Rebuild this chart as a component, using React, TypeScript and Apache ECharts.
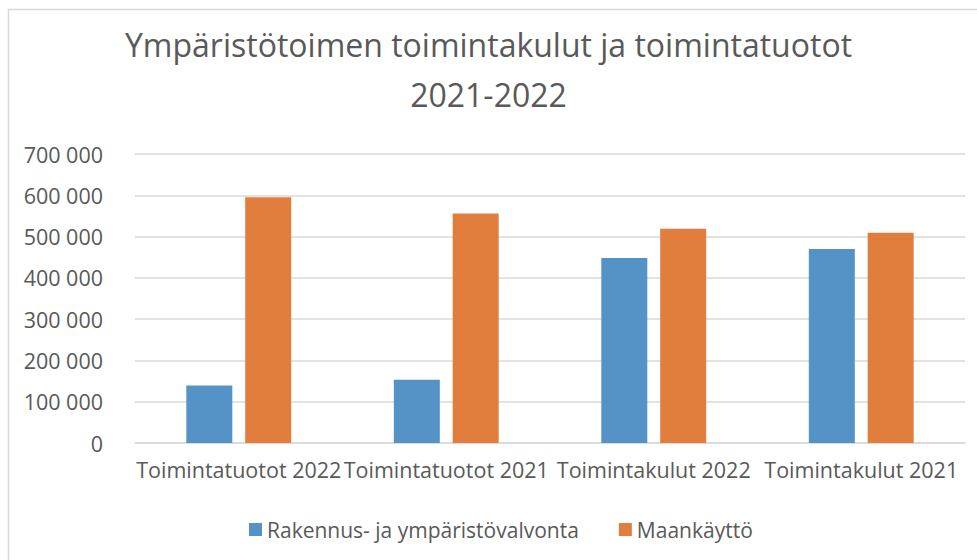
import React, { useEffect, useRef } from "react";
import * as echarts from "echarts";

const titleText = "Ympäristötoimen toimintakulut ja toimintatuotot\n2021-2022";
const categories = ["Toimintatuotot 2022", "Toimintatuotot 2021", "Toimintakulut 2022", "Toimintakulut 2021"];
const seriesNames = ["Rakennus- ja ympäristövalvonta", "Maankäyttö"];
const rakennusValues = [139000, 153000, 448000, 470000];
const maankayttoValues = [595000, 556000, 519000, 509000];
const yMin = 0;
const yMax = 700000;
const yInterval = 100000;

const FONT = "'Open Sans', 'Noto Sans', sans-serif";
const TEXT = "#595959";
const GRID = "#d9d9d9";

export default function App() {
  const ref = useRef<HTMLDivElement>(null);
  useEffect(() => {
    if (!ref.current) return;
    const chart = echarts.init(ref.current, undefined, { renderer: "svg" });
    chart.setOption({
      animation: false,
      backgroundColor: "#ffffff",
      textStyle: { fontFamily: FONT },
      graphic: [
        {
          type: "rect",
          shape: { x: 8.5, y: 9.5, width: 1000, height: 1000 },
          style: { fill: "none", stroke: GRID, lineWidth: 1.5 },
          silent: true,
          z: -1,
        },
      ],
      title: {
        text: titleText,
        left: "center",
        top: 14,
        textStyle: {
          fontFamily: FONT,
          fontSize: 32,
          fontWeight: "normal",
          color: TEXT,
          lineHeight: 50,
        },
      },
      legend: {
        left: 244,
        top: 514,
        itemWidth: 13,
        itemHeight: 13,
        itemGap: 40,
        icon: "rect",
        textStyle: { fontFamily: FONT, fontSize: 21, color: TEXT, padding: [0, 0, 0, 0] },
        data: seriesNames,
      },
      grid: { left: 135, right: 12, top: 154, bottom: 117, containLabel: false },
      xAxis: {
        type: "category",
        data: categories,
        axisTick: { show: false },
        axisLine: { lineStyle: { color: GRID, width: 1.5 } },
        axisLabel: { fontFamily: FONT, fontSize: 21.5, color: TEXT, margin: 15, interval: 0 },
      },
      yAxis: {
        type: "value",
        min: yMin,
        max: yMax,
        interval: yInterval,
        axisLine: { show: false },
        axisTick: { show: false },
        splitLine: { lineStyle: { color: GRID, width: 1.5 } },
        axisLabel: {
          fontFamily: FONT,
          fontSize: 21.5,
          color: TEXT,
          margin: 32,
          formatter: (v: number) => String(Math.round(v)).replace(/\B(?=(\d{3})+(?!\d))/g, " "),
        },
      },
      series: [
        {
          name: seriesNames[0],
          type: "bar",
          data: rakennusValues,
          barWidth: 46,
          barGap: "28%",
          itemStyle: { color: "#5592c6" },
        },
        {
          name: seriesNames[1],
          type: "bar",
          data: maankayttoValues,
          barWidth: 46,
          barGap: "28%",
          itemStyle: { color: "#e27e3d" },
        },
      ],
    });
    return () => chart.dispose();
  }, []);
  return (
    <div
      ref={ref}
      style={{ position: "absolute", left: 0, top: 0, width: 977, height: 560 }}
    />
  );
}
